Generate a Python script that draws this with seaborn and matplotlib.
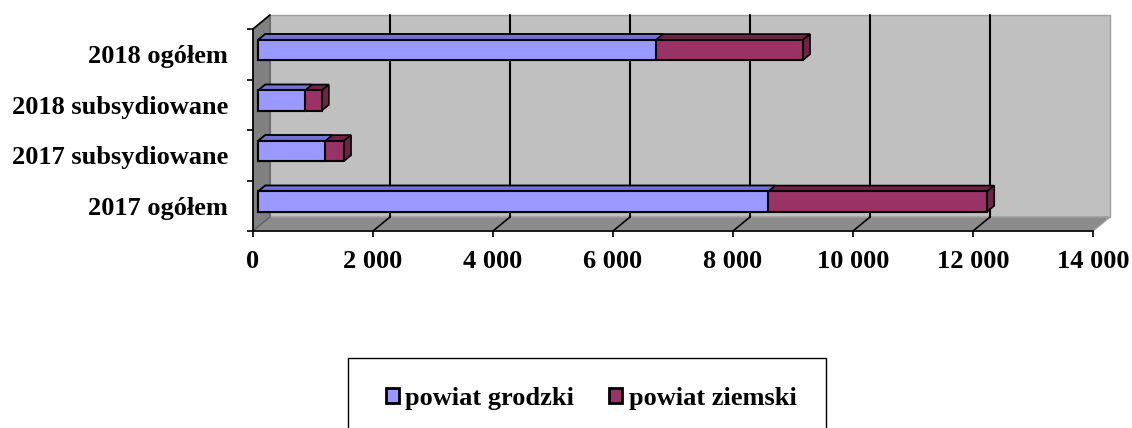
import pandas as pd
import matplotlib.pyplot as plt
import seaborn as sns
from matplotlib.patches import Polygon, Rectangle, Patch
from matplotlib.ticker import FixedLocator, FuncFormatter

# -----------------------------
# Data
# -----------------------------
categories = ["2018 ogółem", "2018 subsydiowane", "2017 subsydiowane", "2017 ogółem"]
grodzki = [6630, 780, 1120, 8500]
ziemski = [2450, 280, 310, 3650]
series_names = ["powiat grodzki", "powiat ziemski"]
x_ticks = [0, 2000, 4000, 6000, 8000, 10000, 12000, 14000]

BLUE, BLUE_TOP = "#9999FF", "#7373D6"
RED, RED_TOP = "#993366", "#6E2449"
WALL, SIDE, FLOOR = "#C0C0C0", "#808080", "#8C8C8C"

df = pd.DataFrame({"kategoria": categories, "grodzki": grodzki, "ziemski": ziemski})
df["razem"] = df["grodzki"] + df["ziemski"]

sns.set_theme(style="white")
plt.rcParams["font.family"] = ["Liberation Serif", "DejaVu Serif"]
plt.rcParams["font.weight"] = "bold"
plt.rcParams["text.color"] = "black"
plt.rcParams["xtick.labelcolor"] = "black"
plt.rcParams["ytick.labelcolor"] = "black"

W, H = 1132, 428
fig = plt.figure(figsize=(W / 100, H / 100), dpi=100)
ax = fig.add_axes([253 / W, (H - 231) / H, 840 / W, 202 / H])
ax.set_facecolor("none")

# -----------------------------
# Stacked bars: total (red) underneath, grodzki (blue) on top
# -----------------------------
sns.barplot(data=df, x="razem", y="kategoria", order=categories, color=RED,
            saturation=1, width=0.4, edgecolor="black", linewidth=1.5, ax=ax)
n_red = len(ax.patches)
sns.barplot(data=df, x="grodzki", y="kategoria", order=categories, color=BLUE,
            saturation=1, width=0.4, edgecolor="black", linewidth=1.5, ax=ax)
bars = list(ax.patches)

ax.set_xlim(0, 14000)
ax.set_ylim(3.5, -0.5)
ax.set_xlabel("")
ax.set_ylabel("")

# depth offsets (pseudo 3D), in data units
DX = 17 / (840 / 14000)
DY = -14 / (202 / 4)
y_bot, y_top = 3.5, -0.5


def pt(x, y, d):
    return (x + d * DX, y + d * DY)


# walls and floor
ax.add_patch(Polygon([pt(0, y_bot, 1), pt(14000, y_bot, 1), pt(14000, y_top, 1), pt(0, y_top, 1)],
                     closed=True, facecolor=WALL, edgecolor="#A0A0A0", lw=1, zorder=0, clip_on=False))
ax.add_patch(Polygon([pt(0, y_bot, 0), pt(14000, y_bot, 0), pt(14000, y_bot, 1), pt(0, y_bot, 1)],
                     closed=True, facecolor=FLOOR, edgecolor="#A0A0A0", lw=1, zorder=0, clip_on=False))
ax.add_patch(Polygon([pt(0, y_bot, 0), pt(0, y_top, 0), pt(0, y_top, 1), pt(0, y_bot, 1)],
                     closed=True, facecolor=SIDE, edgecolor="#606060", lw=1, zorder=0, clip_on=False))
ax.plot(*zip(pt(0, y_top, 0), pt(0, y_top, 1)), color="black", lw=1.2, zorder=1, clip_on=False)

# gridlines on back wall and floor
for t in x_ticks[1:-1]:
    ax.plot(*zip(pt(t, y_bot, 1), pt(t, y_top, 1)), color="black", lw=1.5, zorder=1, clip_on=False)
    ax.plot(*zip(pt(t, y_bot, 0), pt(t, y_bot, 1)), color="black", lw=1.2, zorder=1, clip_on=False)

# shift bars into the middle of the depth and add top / side faces
d0, d1 = 0.3, 0.72
dd = d1 - d0
for i, p in enumerate(bars):
    if p.get_width() == 0:
        continue
    is_red = i < n_red
    p.set_x(p.get_x() + d0 * DX)
    p.set_y(p.get_y() + d0 * DY)
    p.set_zorder(5 if not is_red else 4)
    x0, y0, w, h = p.get_x(), p.get_y(), p.get_width(), p.get_height()
    top = RED_TOP if is_red else BLUE_TOP
    ax.add_patch(Polygon([(x0, y0), (x0 + w, y0), pt(x0 + w, y0, dd), pt(x0, y0, dd)],
                         closed=True, facecolor=top, edgecolor="black", lw=1.2,
                         zorder=3 if is_red else 3.5, clip_on=False))
    if is_red:
        ax.add_patch(Polygon([(x0 + w, y0), (x0 + w, y0 + h), pt(x0 + w, y0 + h, dd), pt(x0 + w, y0, dd)],
                             closed=True, facecolor=RED_TOP, edgecolor="black", lw=1.2, zorder=3, clip_on=False))

# -----------------------------
# Axes styling
# -----------------------------
for s in ["top", "right"]:
    ax.spines[s].set_visible(False)
for s in ["left", "bottom"]:
    ax.spines[s].set_color("black")
    ax.spines[s].set_linewidth(1.2)
    ax.spines[s].set_zorder(2)

ax.set_xticks(x_ticks)
ax.xaxis.set_major_formatter(FuncFormatter(lambda v, _: f"{int(v):,}".replace(",", " ")))
ax.tick_params(axis="x", direction="out", length=4, width=1.2, color="black",
               labelsize=19, pad=10, bottom=True)
ax.yaxis.set_minor_locator(FixedLocator([-0.5, 0.5, 1.5, 2.5, 3.5]))
ax.tick_params(axis="y", which="major", length=0, pad=18, labelsize=19, left=True)
ax.tick_params(axis="y", which="minor", direction="out", length=4, width=1.2, color="black", left=True)
for lbl in ax.get_xticklabels() + ax.get_yticklabels():
    lbl.set_fontweight("bold")
    lbl.set_color("black")

# -----------------------------
# Legend
# -----------------------------
handles = [Patch(facecolor=BLUE, edgecolor="black", lw=2),
           Patch(facecolor=RED, edgecolor="black", lw=2)]
fig.legend(handles, series_names, loc="center", bbox_to_anchor=(591 / W, (H - 398) / H),
           ncol=2, frameon=False, prop={"size": 19, "weight": "bold"},
           handlelength=0.5, handleheight=0.5, handletextpad=0.25, columnspacing=1.3)
fig.add_artist(Rectangle((348 / W, -0.1), 478 / W, (H - 358) / H + 0.1, transform=fig.transFigure,
                         fill=False, edgecolor="black", lw=1))

fig.savefig("out.png", dpi=100)
